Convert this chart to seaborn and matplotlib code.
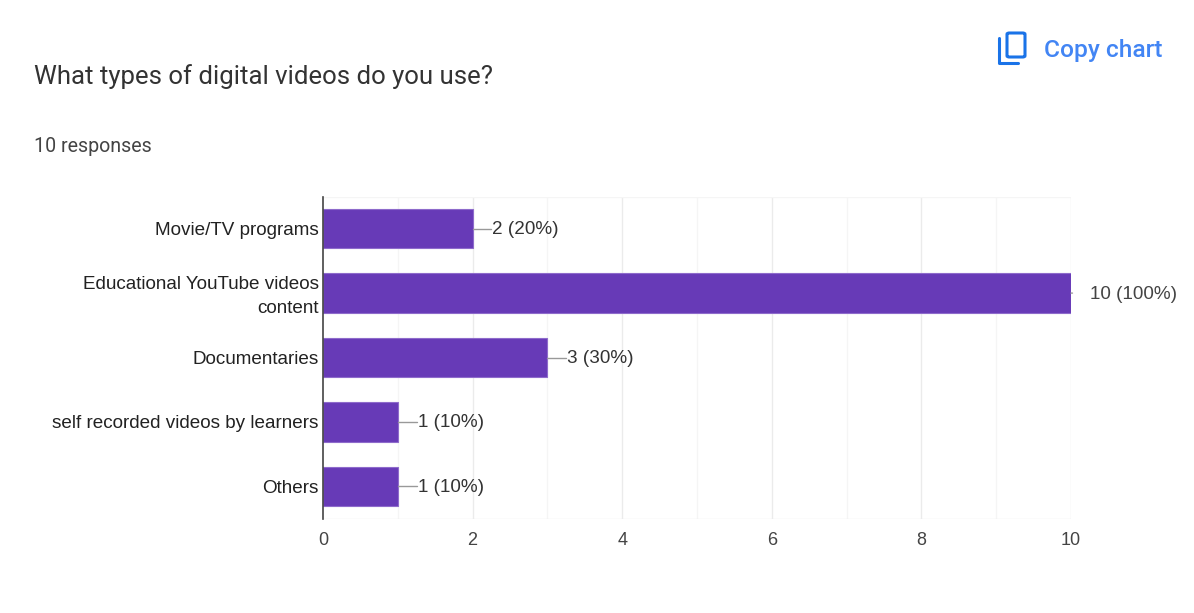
import matplotlib
matplotlib.use("Agg")
import matplotlib.pyplot as plt
from matplotlib.patches import FancyBboxPatch
from matplotlib.lines import Line2D
from matplotlib.transforms import offset_copy
import pandas as pd
import seaborn as sns

# chart values
categories = ["Movie/TV programs", "Educational YouTube videos\ncontent", "Documentaries",
              "self recorded videos by learners", "Others"]
counts = [2, 10, 3, 1, 1]
percents = [20, 100, 30, 10, 10]
x_ticks = [0, 2, 4, 6, 8, 10]
x_minor = [1, 3, 5, 7, 9]

W, H = 1194, 613
px = 0.72  # font points per pixel at dpi 100
label_font = ['Liberation Sans', 'DejaVu Sans']

sns.set_theme(style="white")
plt.rcParams['font.family'] = ['Roboto', 'DejaVu Sans']

fig = plt.figure(figsize=(W / 100, H / 100), dpi=100, facecolor="white")
ax = fig.add_axes([323 / W, 1 - 518.5 / H, (1071 - 323) / W, (518.5 - 196.5) / H])

df = pd.DataFrame({"category": categories, "count": counts})
sns.barplot(data=df, y="category", x="count", color="#673ab7", saturation=1,
            width=0.61, edgecolor="#8e6bcb", linewidth=0.8, ax=ax, zorder=3)

ax.set_xlim(0, 10)
ax.set_ylim(4.5, -0.5)
ax.set_xlabel("")
ax.set_ylabel("")

# grid
for v in x_minor:
    ax.axvline(v, color="#f5f5f5", lw=1, zorder=0)
for v in x_ticks[1:]:
    ax.axvline(v, color="#ebebeb", lw=1, zorder=0)
ax.axhline(-0.5, color="#f5f5f5", lw=1, zorder=0)
ax.axhline(4.5, color="#ebebeb", lw=1, zorder=0)

for s in ["top", "right", "bottom"]:
    ax.spines[s].set_visible(False)
ax.spines["left"].set_color("#444444")
ax.spines["left"].set_linewidth(1.2)
ax.spines["left"].set_zorder(5)

ax.set_xticks(x_ticks)
ax.set_xticklabels([str(v) for v in x_ticks], fontsize=18 * px, color="#444444", family=label_font)
ax.tick_params(axis="x", length=0, pad=10)
ax.set_yticks(range(len(categories)))
ax.set_yticklabels(categories, fontsize=18.9 * px, color="#222222", linespacing=1.6, ha="right",
                   family=label_font)
ax.tick_params(axis="y", length=0, pad=3)

# the wrapped label sits a little higher than its bar centre
wrapped = ax.get_yticklabels()[1]
wrapped.set_transform(offset_copy(wrapped.get_transform(), fig=fig, y=2.5, units="dots"))

# value labels with leader lines
for i, (c, p) in enumerate(zip(counts, percents)):
    label = f"{c} ({p}%)"
    if c == 10:
        ax.annotate("", xy=(c, i), xytext=(c + 0.02, i),
                    arrowprops=dict(arrowstyle="-", color="#999999", lw=1))
        ax.annotate(label, xy=(c, i), xytext=(19, -1), textcoords="offset pixels",
                    va="center", ha="left", fontsize=18.9 * px, color="#444444",
                    family=label_font, annotation_clip=False)
    else:
        ax.plot([c, c + 0.25], [i, i], color="#999999", lw=1, zorder=4)
        ax.annotate(label, xy=(c + 0.25, i), xytext=(1, -1), textcoords="offset pixels",
                    va="center", ha="left", fontsize=18.9 * px, color="#333333",
                    family=label_font)

# header texts
fig.text(34 / W, 1 - 77 / H, "What types of digital videos do you use?",
         fontsize=25.8 * px, color="#333333", va="center", ha="left")
fig.text(34 / W, 1 - 146 / H, "10 responses", fontsize=19.6 * px, color="#444444",
         va="center", ha="left")
fig.text(1044 / W, 1 - 50 / H, "Copy chart", fontsize=24.5 * px, color="#4285f4",
         fontweight="medium", va="center", ha="left")

# copy icon
blue = "#1a73e8"
def to_fig(x, y):
    return x / W, 1 - y / H

x0, y0 = to_fig(1007, 57)
fig.add_artist(FancyBboxPatch((x0, y0), 18 / W, 24 / H, transform=fig.transFigure,
                              boxstyle="round,pad=0,rounding_size=0.002", fill=False,
                              edgecolor=blue, linewidth=2.2))
xs = [999 / W, 999 / W, 1018 / W]
ys = [1 - 38 / H, 1 - 63 / H, 1 - 63 / H]
fig.add_artist(Line2D(xs, ys, transform=fig.transFigure, color=blue, lw=2.2,
                      solid_joinstyle="round"))

fig.savefig("out.png", dpi=100, facecolor="white")
